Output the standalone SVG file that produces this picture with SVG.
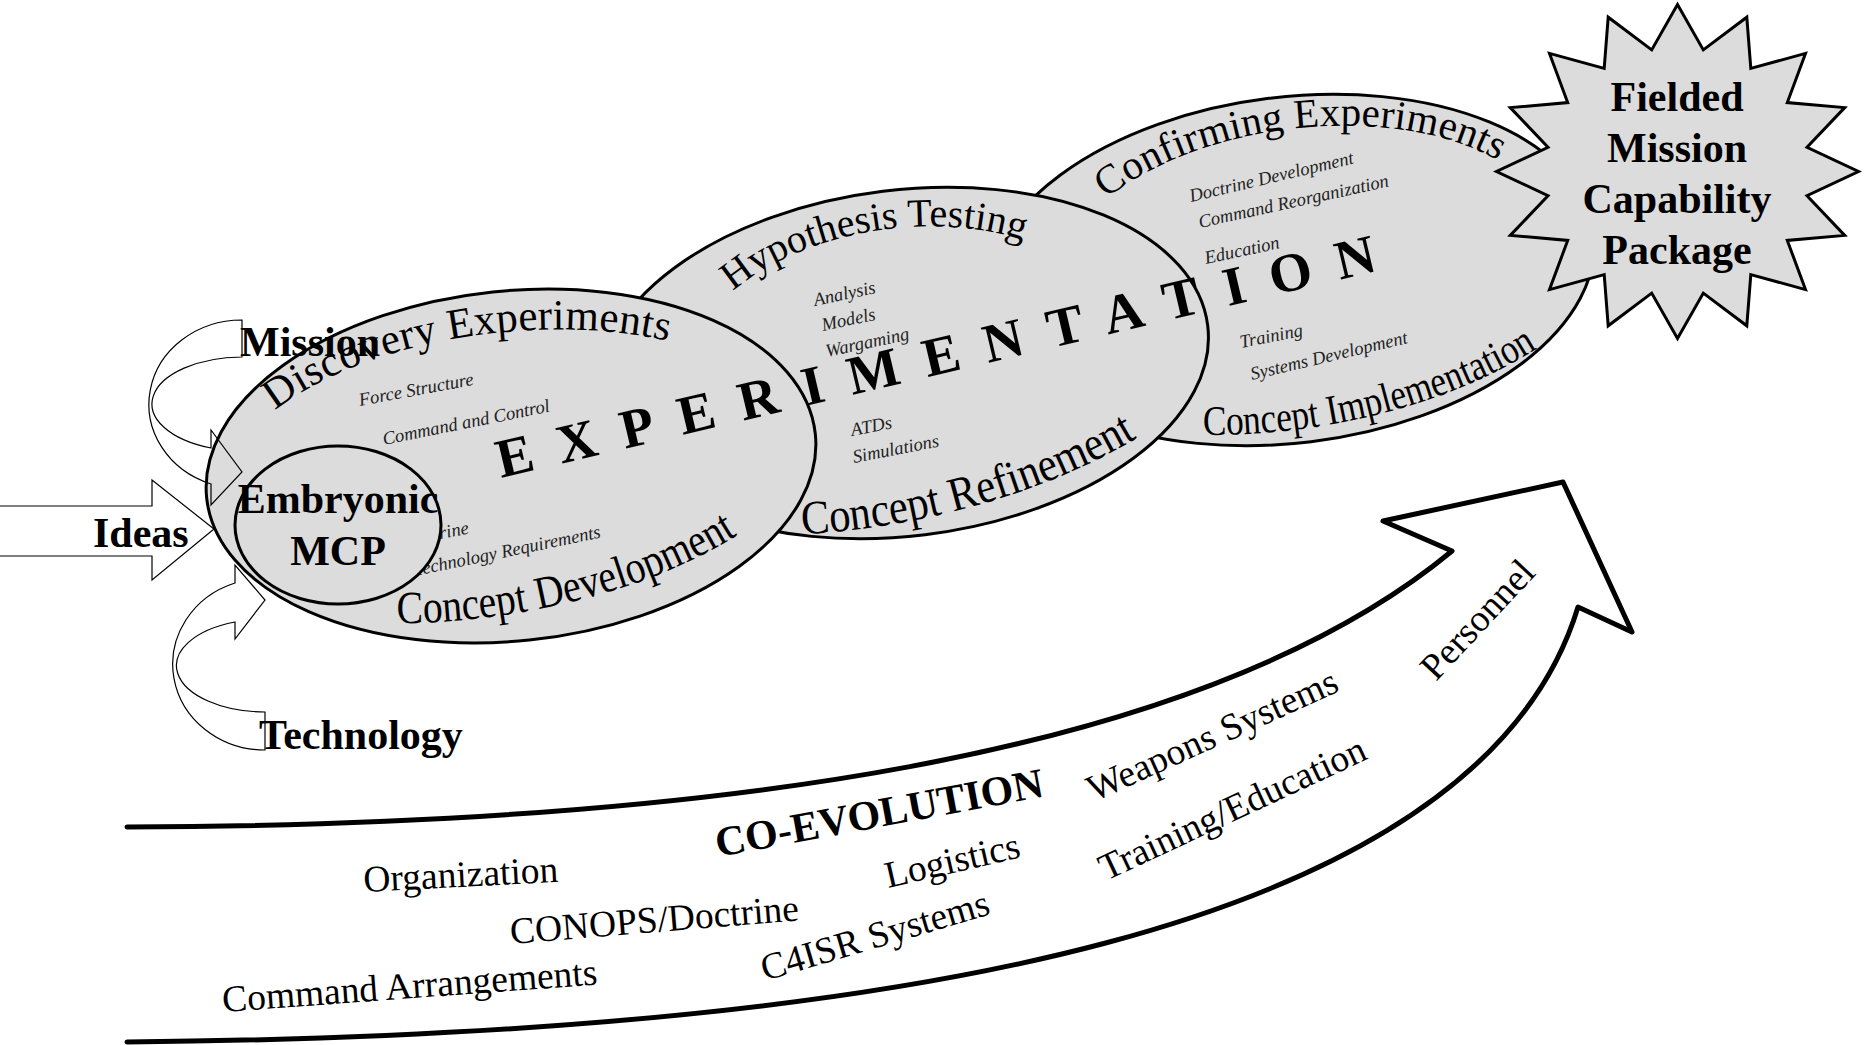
<svg xmlns="http://www.w3.org/2000/svg" width="1867" height="1045" viewBox="0 0 1867 1045">
<style>
.ell{fill:#dcdcdc;stroke:#000;stroke-width:3}
.serif{font-family:"Liberation Serif","Times New Roman",serif;fill:#000}
.title{font-family:"Liberation Serif","Times New Roman",serif;fill:#000}
.small{font-family:"Liberation Serif","Times New Roman",serif;font-style:italic;font-size:18.5px;fill:#222}
.b42{font-family:"Liberation Serif","Times New Roman",serif;font-weight:bold;font-size:42px;fill:#000}
.co{font-family:"Liberation Serif","Times New Roman",serif;font-size:37.5px;fill:#000}
.thin{fill:none;stroke:#000;stroke-width:1.2}
.big{fill:none;stroke:#000;stroke-width:5;stroke-linecap:round;stroke-linejoin:round}
</style>
<defs>
<path id="tp1" d="M -229.1,-79.7 A 285 134 0 0 1 267.8,-45.8"/>
<path id="tp2" d="M -160.9,-92.1 A 220 135 0 0 1 206.7,-46.2"/>
<path id="tp3" d="M -173.4,-93.3 A 254 140 0 0 1 261.3,-36.2"/>
<path id="tp4" d="M 397,623 C 490,624 640,600 745,530"/>
<path id="tp5" d="M 802,534 C 900,530 1040,500 1150,430"/>
<path id="tp6" d="M 1203,435 C 1300,436 1440,415 1550,340"/>
</defs>
<rect width="1867" height="1045" fill="#fff"/>

<g id="confirming-experiments">
<ellipse class="ell" cx="1290" cy="270" rx="306" ry="173" transform="rotate(-7 1290 270)"/>
<g transform="translate(1290,270) rotate(-7)">
<text class="title" font-size="41"><textPath href="#tp3" textLength="412" lengthAdjust="spacing">Confirming Experiments</textPath></text>
</g>
<text class="title" font-size="42"><textPath href="#tp6" textLength="350" lengthAdjust="spacingAndGlyphs">Concept Implementation</textPath></text>
<text class="small" transform="translate(1191,202) rotate(-13.3)">Doctrine Development</text>
<text class="small" transform="translate(1200,228) rotate(-12.4)">Command Reorganization</text>
<text class="small" transform="translate(1206,264) rotate(-12)">Education</text>
<text class="small" transform="translate(1241,348) rotate(-11)">Training</text>
<text class="small" transform="translate(1252,380) rotate(-13.3)">Systems Development</text>
</g>

<g id="hypothesis-testing">
<ellipse class="ell" cx="904" cy="363" rx="306" ry="173" transform="rotate(-7 904 363)"/>
<g transform="translate(904,363) rotate(-7)">
<text class="title" font-size="40"><textPath href="#tp2" textLength="306" lengthAdjust="spacing">Hypothesis Testing</textPath></text>
</g>
<text class="title" font-size="48"><textPath href="#tp5" textLength="352" lengthAdjust="spacingAndGlyphs">Concept Refinement</textPath></text>
<text class="small" transform="translate(815,306) rotate(-12)">Analysis</text>
<text class="small" transform="translate(823,331) rotate(-12)">Models</text>
<text class="small" transform="translate(827,357) rotate(-12)">Wargaming</text>
<text class="small" transform="translate(852,436) rotate(-11)">ATDs</text>
<text class="small" transform="translate(854,463) rotate(-11)">Simulations</text>
</g>

<g id="discovery-experiments">
<ellipse class="ell" cx="511" cy="466" rx="306" ry="175" transform="rotate(-6 511 466)"/>
<g transform="translate(511,466) rotate(-6)">
<text class="title" font-size="43"><textPath href="#tp1" textLength="410" lengthAdjust="spacing">Discovery Experiments</textPath></text>
</g>
<text class="title" font-size="46"><textPath href="#tp4" textLength="356" lengthAdjust="spacingAndGlyphs">Concept Development</textPath></text>
<text class="small" transform="translate(360,406) rotate(-10.5)">Force Structure</text>
<text class="small" transform="translate(384,445) rotate(-11.4)">Command and Control</text>
<text class="small" transform="translate(405,546) rotate(-11)">Doctrine</text>
<text class="small" transform="translate(415,576) rotate(-11.7)">Technology Requirements</text>
</g>

<g id="embryonic-mcp">
<ellipse class="ell" cx="338" cy="525" rx="103" ry="79"/>
<text class="b42" x="338" y="513" text-anchor="middle">Embryonic</text>
<text class="b42" x="338" y="565" text-anchor="middle">MCP</text>
</g>

<g id="experimentation-label">
<text class="serif" font-weight="bold" font-size="55" letter-spacing="25.5" transform="translate(501,478) rotate(-13.3)">EXPERIMENTATION</text>
</g>

<g id="fielded-mcp">
<polygon class="ell" stroke-width="2.5" points="1677.5,4.5 1703.3,49.9 1746.8,17.2 1750.8,68.4 1805.5,53.4 1787.3,102.6 1844.7,107.6 1807,147.3 1858.5,171.5 1807,195.7 1844.7,235.4 1787.3,240.4 1805.5,289.6 1750.8,274.6 1746.8,325.8 1703.3,293.1 1677.5,338.5 1651.7,293.1 1608.2,325.8 1604.2,274.6 1549.5,289.6 1567.7,240.4 1510.3,235.4 1548,195.7 1496.5,171.5 1548,147.3 1510.3,107.6 1567.7,102.6 1549.5,53.4 1604.2,68.4 1608.2,17.2 1651.7,49.9"/>
<text class="b42" x="1677" y="111" text-anchor="middle">Fielded</text>
<text class="b42" x="1677" y="162" text-anchor="middle">Mission</text>
<text class="b42" x="1677" y="213" text-anchor="middle">Capability</text>
<text class="b42" x="1677" y="264" text-anchor="middle">Package</text>
</g>

<g id="connectors">
<path id="ideas-arrow" class="thin" d="M 0,506 L 152,506 L 152,480 L 214,529 L 152,580 L 152,556 L 0,556"/>
<path id="mission-arrow" class="thin" d="M 242,320 L 242,357 A 91 47 0 0 0 211,448 L 211,430 L 242,472 L 211,505 L 211,484 A 93 84.4 0 0 1 242,320 Z"/>
<path id="technology-arrow" class="thin" d="M 265,750 L 265,712 A 89 46.4 0 0 1 235,622 L 235,639 L 265,600 L 235,565 L 235,583 A 92 85.8 0 0 0 265,750 Z"/>
</g>

<g id="ideas"><text class="b42" x="93" y="547">Ideas</text></g>
<g id="mission"><text class="b42" x="240" y="356">Mission</text></g>
<g id="technology"><text class="b42" x="259" y="749">Technology</text></g>

<g id="co-evolution">
<path class="big" d="M 127,827 C 700,825 1200,760 1452,551 L 1383,521 L 1563,482 L 1632,632 L 1578,607 C 1480,930 900,1035 127,1042"/>
<text class="serif" font-weight="bold" font-size="42" transform="translate(718,857) rotate(-10.5)">CO-EVOLUTION</text>
<text class="co" transform="translate(364,892) rotate(-3)">Organization</text>
<text class="co" transform="translate(511,944) rotate(-4.7)">CONOPS/Doctrine</text>
<text class="co" transform="translate(223,1012) rotate(-4.2)">Command Arrangements</text>
<text class="co" transform="translate(888,888) rotate(-13)">Logistics</text>
<text class="co" transform="translate(765,981) rotate(-16.5)">C4ISR Systems</text>
<text class="co" transform="translate(1094,802) rotate(-24.3)">Weapons Systems</text>
<text class="co" transform="translate(1106,881) rotate(-25)">Training/Education</text>
<text class="co" transform="translate(1436,682) rotate(-47)">Personnel</text>
</g>
</svg>
